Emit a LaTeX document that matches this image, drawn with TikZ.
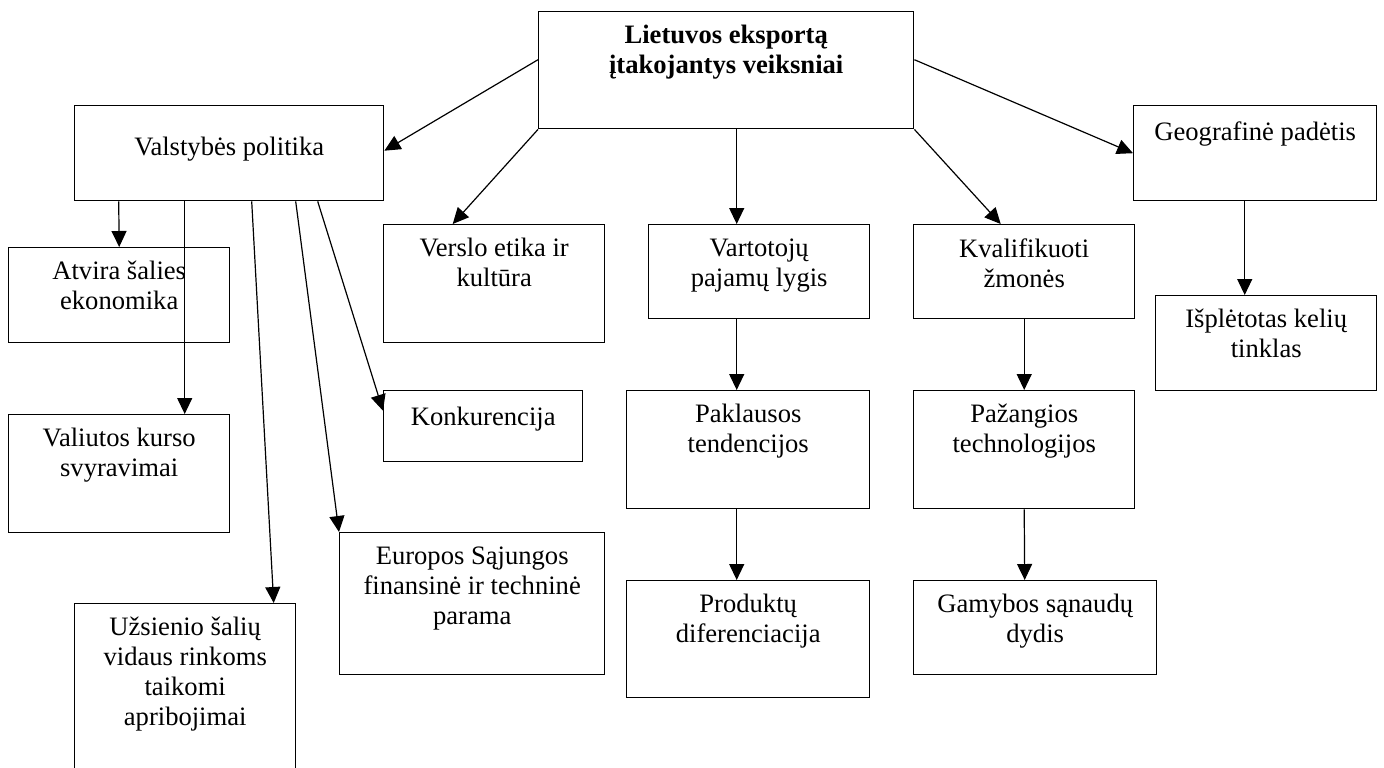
\documentclass[tikz,border=0pt]{standalone}
\usepackage{fontspec}
\setmainfont{Liberation Serif}
\usetikzlibrary{arrows.meta}

\begin{document}
\begin{tikzpicture}[x=0.5pt, y=-0.5pt,
    box/.style={draw=black, line width=0.7pt, anchor=north west, inner sep=0pt},
    txt/.style={anchor=north, yshift=-7pt, align=center, inner sep=0pt, font=\fontsize{13.3}{15}\selectfont, execute at begin node=\strut},
    arr/.style={-{Triangle[length=8pt, width=7.5pt]}, line width=0.6pt}]
            \useasboundingbox (0, 0) rectangle (1384, 767);
            \clip (0, 0) rectangle (1384, 767);

            \node[box, minimum width=187.5pt, minimum height=58.5pt] (top) at (538, 11) {};
            \node[box, minimum width=154.5pt, minimum height=47.5pt] (vp) at (74, 105) {};
            \node[box, minimum width=121.5pt, minimum height=47.5pt] (geo) at (1133, 105) {};
            \node[box, minimum width=110.5pt, minimum height=47.5pt] (atv) at (8, 247) {};
            \node[box, minimum width=110.5pt, minimum height=59pt] (verslo) at (383, 224) {};
            \node[box, minimum width=110.5pt, minimum height=47pt] (vart) at (648, 224) {};
            \node[box, minimum width=110.5pt, minimum height=47pt] (kval) at (913, 224) {};
            \node[box, minimum width=110.5pt, minimum height=47.5pt] (isp) at (1155, 295) {};
            \node[box, minimum width=99.5pt, minimum height=35.5pt] (konk) at (383, 390) {};
            \node[box, minimum width=121.5pt, minimum height=59pt] (pak) at (626, 390) {};
            \node[box, minimum width=110.5pt, minimum height=59pt] (paz) at (913, 390) {};
            \node[box, minimum width=110.5pt, minimum height=59pt] (val) at (8, 414) {};
            \node[box, minimum width=132.5pt, minimum height=71pt] (eu) at (339, 532) {};
            \node[box, minimum width=121.5pt, minimum height=58.5pt] (prod) at (626, 580) {};
            \node[box, minimum width=121.5pt, minimum height=47pt] (gam) at (913, 580) {};
            \node[box, minimum width=110.5pt, minimum height=90pt] (uzs) at (74, 603) {};

            \node[txt, font=\fontsize{13.3}{15}\selectfont\bfseries] (top-t) at (top.north) {Lietuvos eksportą\\įtakojantys veiksniai};
            \node[txt, yshift=-7.5pt] (vp-t) at (vp.north) {Valstybės politika};
            \node[txt] (geo-t) at (geo.north) {Geografinė padėtis};
            \node[txt] (atv-t) at (atv.north) {Atvira šalies\\ekonomika};
            \node[txt] (verslo-t) at (verslo.north) {Verslo etika ir\\kultūra};
            \node[txt] (vart-t) at (vart.north) {Vartotojų\\pajamų lygis};
            \node[txt] (kval-t) at (kval.north) {Kvalifikuoti\\žmonės};
            \node[txt] (isp-t) at (isp.north) {Išplėtotas kelių\\tinklas};
            \node[txt] (konk-t) at (konk.north) {Konkurencija};
            \node[txt] (pak-t) at (pak.north) {Paklausos\\tendencijos};
            \node[txt] (paz-t) at (paz.north) {Pažangios\\technologijos};
            \node[txt] (val-t) at (val.north) {Valiutos kurso\\svyravimai};
            \node[txt] (eu-t) at (eu.north) {Europos Sąjungos\\finansinė ir techninė\\parama};
            \node[txt] (prod-t) at (prod.north) {Produktų\\diferenciacija};
            \node[txt] (gam-t) at (gam.north) {Gamybos sąnaudų\\dydis};
            \node[txt] (uzs-t) at (uzs.north) {Užsienio šalių\\vidaus rinkoms\\taikomi\\apribojimai};

            \draw[arr] ([yshift=5.25pt]top.west) -- ([yshift=1.25pt]vp.east);
            \draw[arr] ([yshift=5.25pt]top.east) -- (geo.west);
            \draw[arr] (top.south west) -- ([xshift=-20.75pt]verslo.north);
            \draw[arr] ([xshift=5.25pt]top.south) -- ([xshift=-11.25pt]vart.north);
            \draw[arr] (top.south east) -- ([xshift=-11.75pt]kval.north);

            \draw[arr] ([xshift=-55.25pt]vp.south) -- (atv.north);
            \draw[arr] ([xshift=-22.25pt]vp.south) -- ([xshift=32.75pt]val.north);
            \draw[arr] ([xshift=11.25pt]vp.south) -- ([xshift=44.25pt]uzs.north);
            \draw[arr] ([xshift=33.25pt]vp.south) -- (eu.north west);
            \draw[arr] ([xshift=44.25pt]vp.south) -- ([yshift=7.75pt]konk.west);

            \draw[arr] ([xshift=-11.25pt]vart.south) -- ([xshift=-5.75pt]pak.north);
            \draw[arr] ([xshift=-5.75pt]pak.south) -- ([xshift=-5.75pt]prod.north);
            \draw[arr] (kval.south) -- (paz.north);
            \draw[arr] (paz.south) -- ([xshift=-5.25pt]gam.north);
            \draw[arr] ([xshift=-5.25pt]geo.south) -- ([xshift=-10.75pt]isp.north);
        \end{tikzpicture}
\end{document}
